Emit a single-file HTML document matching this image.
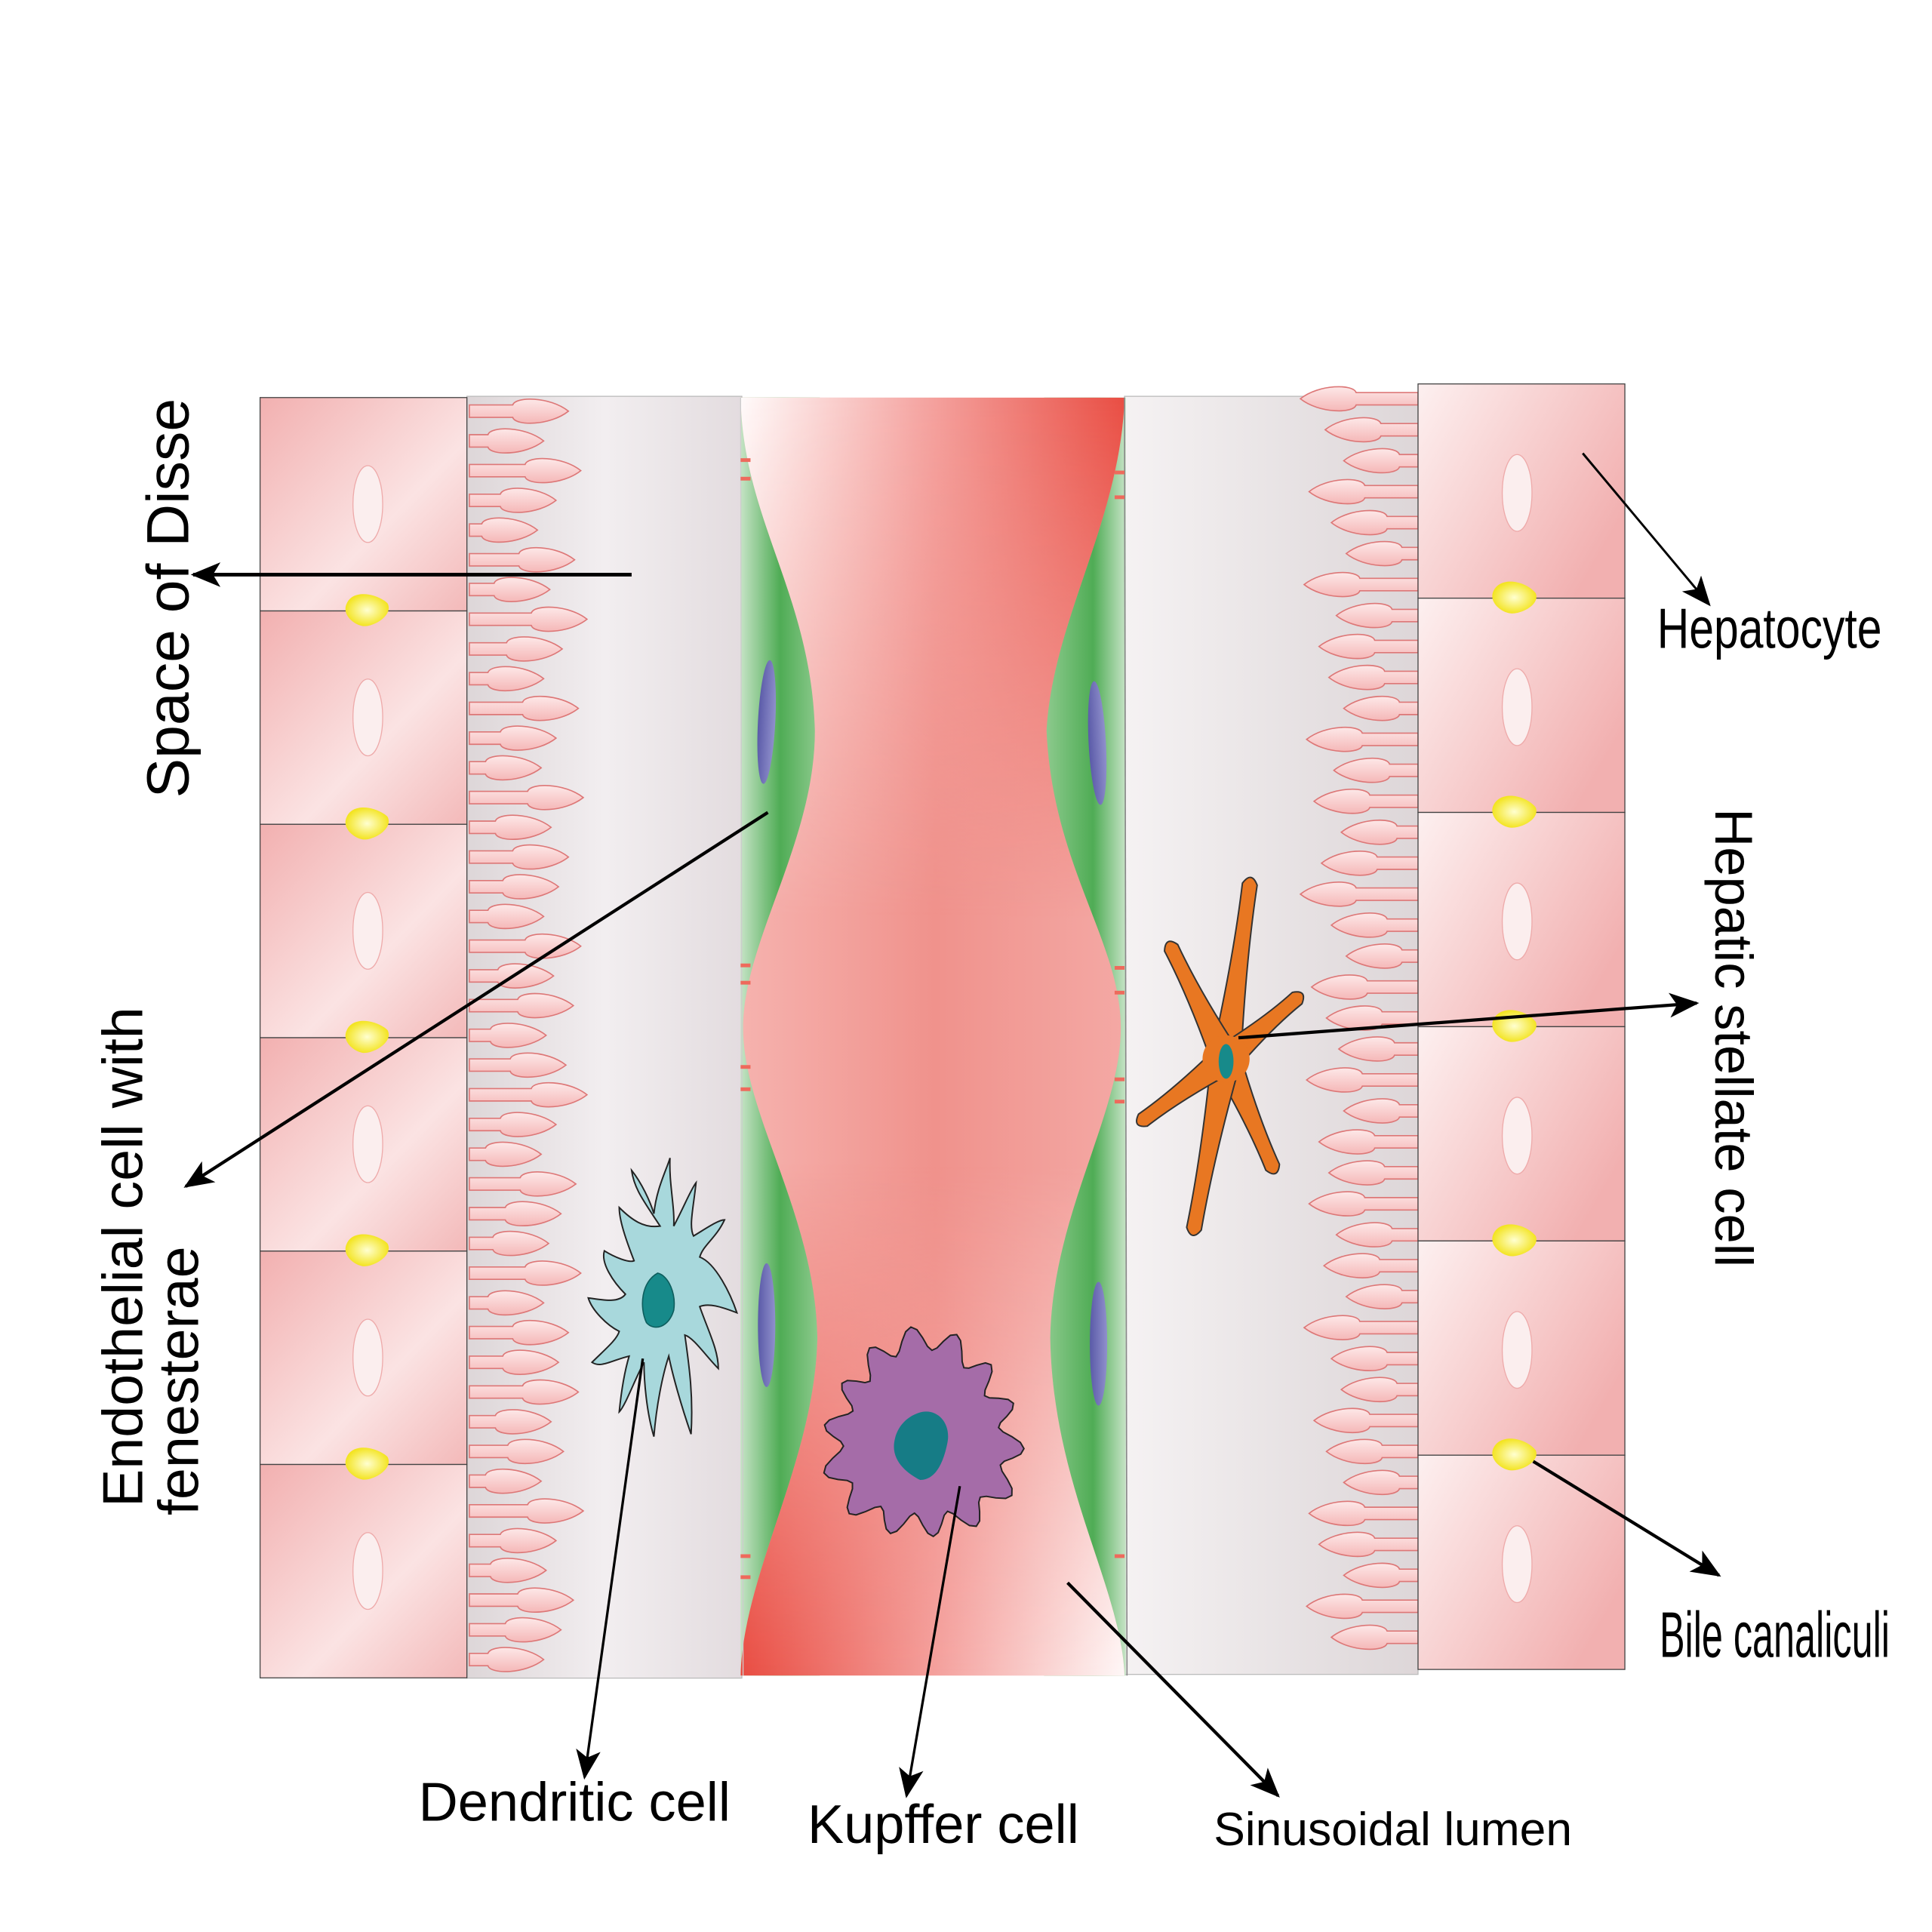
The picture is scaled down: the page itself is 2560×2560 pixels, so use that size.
<!DOCTYPE html>
<html><head><meta charset="utf-8"><style>
html,body{margin:0;padding:0;background:#fff}
svg{display:block}
text{font-family:"Liberation Sans",sans-serif;fill:#000}
</style></head><body>
<svg id="s" width="2560" height="2560" viewBox="0 0 1560 1560" xmlns="http://www.w3.org/2000/svg">
<defs>
<linearGradient id="hepL" x1="0" y1="0" x2="1" y2="1"><stop offset="0" stop-color="#f2b0b0"/><stop offset="0.6" stop-color="#fbe3e3"/><stop offset="1" stop-color="#f3b9b9"/></linearGradient>
<linearGradient id="hepR" x1="0" y1="0" x2="1" y2="0.6"><stop offset="0" stop-color="#fdf0f0"/><stop offset="1" stop-color="#f2b0b0"/></linearGradient>
<linearGradient id="disseL" x1="0" y1="0" x2="1" y2="0"><stop offset="0" stop-color="#ddd6d8"/><stop offset="0.5" stop-color="#f2eef0"/><stop offset="1" stop-color="#e3dcdf"/></linearGradient>
<linearGradient id="disseR" x1="0" y1="0" x2="1" y2="0"><stop offset="0" stop-color="#f5f2f3"/><stop offset="1" stop-color="#ddd6d8"/></linearGradient>
<linearGradient id="lumen" x1="0" y1="0" x2="1" y2="0"><stop offset="0" stop-color="#f6b4b0"/><stop offset="0.5" stop-color="#f0928c"/><stop offset="1" stop-color="#f4aaa6"/></linearGradient>
<linearGradient id="lumTop" x1="0" y1="0" x2="1" y2="0"><stop offset="0" stop-color="#fff"/><stop offset="0.45" stop-color="#f5a9a6"/><stop offset="1" stop-color="#e8473c"/></linearGradient>
<linearGradient id="lumBot" x1="0" y1="0" x2="1" y2="0"><stop offset="0" stop-color="#e8473c"/><stop offset="0.55" stop-color="#f5a9a6"/><stop offset="1" stop-color="#fff"/></linearGradient>
<linearGradient id="fadeDown" x1="0" y1="0" x2="0" y2="1"><stop offset="0" stop-color="#fff"/><stop offset="1" stop-color="#000"/></linearGradient>
<linearGradient id="fadeUp" x1="0" y1="0" x2="0" y2="1"><stop offset="0" stop-color="#000"/><stop offset="1" stop-color="#fff"/></linearGradient>
<mask id="mTop"><rect x="590" y="321" width="330" height="420" fill="url(#fadeDown)"/></mask>
<mask id="mBot"><rect x="590" y="940" width="330" height="415" fill="url(#fadeUp)"/></mask>
<clipPath id="lc"><path d="M598,321 L908,321 C905,420 850,500 845,590 C850,700 905,760 905,830 C905,900 850,980 848,1080 C850,1200 905,1280 908,1353 L598,1353 C600,1270 658,1180 660,1080 C658,980 600,900 600,830 C600,760 658,680 658,590 C655,480 600,420 598,321 Z"/></clipPath>
<linearGradient id="grL" x1="0" y1="0" x2="1" y2="0"><stop offset="0" stop-color="#c5e3c5"/><stop offset="0.5" stop-color="#4fac55"/><stop offset="1" stop-color="#8fcb8f"/></linearGradient>
<linearGradient id="grR" x1="0" y1="0" x2="1" y2="0"><stop offset="0" stop-color="#8fcb8f"/><stop offset="0.6" stop-color="#4fac55"/><stop offset="1" stop-color="#c5e3c5"/></linearGradient>
<linearGradient id="villi" x1="0" y1="0" x2="0" y2="1"><stop offset="0" stop-color="#fde8e8"/><stop offset="1" stop-color="#f5b8b8"/></linearGradient>
<radialGradient id="yel"><stop offset="0" stop-color="#ffffd0"/><stop offset="1" stop-color="#f3e422"/></radialGradient>
<linearGradient id="nuc" x1="0" y1="0" x2="1" y2="0"><stop offset="0" stop-color="#5a5aa8"/><stop offset="1" stop-color="#9090cc"/></linearGradient>
<marker id="ah" markerWidth="24" markerHeight="20" refX="22" refY="10" orient="auto" markerUnits="userSpaceOnUse" viewBox="0 0 24 20"><path d="M0,0 L24,10 L0,20 L6,10 Z" fill="#000"/></marker>
</defs>
<rect x="377" y="320" width="222" height="1035" fill="url(#disseL)" stroke="#bbb" stroke-width="0.8"/>
<rect x="908" y="320" width="237" height="1032" fill="url(#disseR)" stroke="#bbb" stroke-width="0.8"/>
<g id="villiL"></g><g id="villiR"></g>
<rect x="598" y="321" width="64" height="1032" fill="url(#grL)"/>
<rect x="843" y="321" width="66" height="1032" fill="url(#grR)"/>
<g clip-path="url(#lc)">
<rect x="590" y="315" width="330" height="1045" fill="url(#lumen)"/>
<rect x="590" y="321" width="330" height="420" fill="url(#lumTop)" mask="url(#mTop)"/>
<rect x="590" y="940" width="330" height="415" fill="url(#lumBot)" mask="url(#mBot)"/>
</g>
<line x1="908" y1="321" x2="910" y2="1353" stroke="#888" stroke-width="1"/>
<line x1="598" y1="321" x2="600" y2="1353" stroke="#ccc" stroke-width="0.8"/>
<ellipse cx="619" cy="583" rx="7" ry="50" fill="url(#nuc)" transform="rotate(3 619 583)"/>
<ellipse cx="886" cy="600" rx="7" ry="50" fill="url(#nuc)" transform="rotate(-3 886 600)"/>
<ellipse cx="619" cy="1070" rx="7" ry="50" fill="url(#nuc)"/>
<ellipse cx="887" cy="1085" rx="7" ry="50" fill="url(#nuc)"/>
<g fill="#ee6a5c"><rect x="598" y="370" width="8" height="3"/><rect x="598" y="385" width="8" height="3"/><rect x="598" y="778" width="8" height="3"/><rect x="598" y="792" width="8" height="3"/><rect x="598" y="860" width="8" height="3"/><rect x="598" y="878" width="8" height="3"/><rect x="598" y="1255" width="8" height="3"/><rect x="598" y="1272" width="8" height="3"/>
<rect x="900" y="380" width="8" height="3"/><rect x="900" y="400" width="8" height="3"/><rect x="900" y="780" width="8" height="3"/><rect x="900" y="800" width="8" height="3"/><rect x="900" y="870" width="8" height="3"/><rect x="900" y="888" width="8" height="3"/><rect x="900" y="1255" width="8" height="3"/></g>
<g id="hep"></g>
<path d="M533,990 C520,970 512,960 510,945 C518,955 525,970 528,980 C530,960 538,945 541,935 C540,955 545,975 544,990 C552,975 558,960 562,955 C560,975 556,990 560,998 C570,992 580,985 585,985 C578,1000 568,1005 565,1015 C578,1020 590,1045 595,1060 C582,1055 572,1052 565,1055 C572,1075 580,1090 580,1105 C570,1095 560,1080 553,1078 C556,1100 560,1125 558,1158 C550,1135 543,1110 540,1095 C535,1110 530,1135 528,1160 C522,1140 520,1115 520,1100 C512,1115 505,1135 500,1140 C502,1120 505,1105 508,1095 C495,1098 485,1105 478,1100 C488,1090 498,1082 500,1075 C490,1070 478,1058 475,1048 C488,1050 500,1052 505,1045 C495,1035 485,1020 488,1010 C496,1015 508,1020 512,1018 C505,1000 500,985 500,975 C510,985 520,992 533,990 Z" fill="#a8d8dc" stroke="#222" stroke-width="1.2"/>
<path d="M531,1028 C540,1030 546,1045 544,1058 C540,1072 528,1075 522,1068 C516,1055 518,1035 531,1028 Z" fill="#178a8a" stroke="#0e5e5e" stroke-width="1"/>
<g id="kup"></g>
<path d="M745,1140 C758,1138 768,1150 765,1165 C762,1180 756,1195 743,1195 C733,1190 720,1180 722,1165 C724,1150 735,1142 745,1140 Z" fill="#167c86"/>
<g id="stel"></g>
<ellipse cx="990" cy="857" rx="6" ry="14" fill="#178a8a"/>
<g stroke="#000" fill="none">
<line x1="510" y1="464" x2="156" y2="464" stroke-width="3" marker-end="url(#ah)"/>
<line x1="620" y1="656" x2="150" y2="958" stroke-width="2.6" marker-end="url(#ah)"/>
<line x1="1278" y1="366" x2="1380" y2="488" stroke-width="1.8" marker-end="url(#ah)"/>
<line x1="1000" y1="838" x2="1370" y2="810" stroke-width="2.6" marker-end="url(#ah)"/>
<line x1="1238" y1="1180" x2="1388" y2="1272" stroke-width="2.6" marker-end="url(#ah)"/>
<line x1="519" y1="1097" x2="472" y2="1435" stroke-width="2" marker-end="url(#ah)"/>
<line x1="775" y1="1200" x2="732" y2="1450" stroke-width="2" marker-end="url(#ah)"/>
<line x1="862" y1="1278" x2="1032" y2="1450" stroke-width="2.6" marker-end="url(#ah)"/>
</g>
<text transform="translate(152,483) rotate(-90)" text-anchor="middle" font-size="48">Space of Disse</text>
<text transform="translate(115,1015) rotate(-90)" text-anchor="middle" font-size="46">Endothelial cell with</text>
<text transform="translate(160,1115) rotate(-90)" text-anchor="middle" font-size="46">fenesterae</text>
<text transform="translate(1385,838) rotate(90)" text-anchor="middle" font-size="43">Hepatic stellate cell</text>
<text x="1338" y="523" font-size="46" transform="translate(1338 523) scale(0.78 1) translate(-1338 -523)">Hepatocyte</text>
<text x="1340" y="1338" font-size="52" transform="translate(1340 1338) scale(0.59 1) translate(-1340 -1338)">Bile canaliculi</text>
<text x="338" y="1470" font-size="44">Dendritic cell</text>
<text x="652" y="1488" font-size="44">Kupffer cell</text>
<text x="980" y="1490" font-size="38">Sinusoidal lumen</text>
</svg>
<script>
var NS="http://www.w3.org/2000/svg";
function el(p,t,a){var e=document.createElementNS(NS,t);for(var k in a)e.setAttribute(k,a[k]);p.appendChild(e);return e;}
var vl=document.getElementById('villiL'),vr=document.getElementById('villiR');
var lens=[80,60,90,70,55,85,65,95,75,60,88,70,58,92,66,80,72,60,90,68,84,62,78,95,70,58,86,74,64,90,60,80,72,88,66,76,58,92,70,62,84,74,60,88];
function villus(x0,L,y,dir){var x1=x0+dir*L,s=5,h=12,b=x1-dir*45;
return 'M'+x0+','+(y-s)+' L'+b+','+(y-s)+' C'+(b+dir*2)+','+(y-h)+' '+(x1-dir*15)+','+(y-h)+' '+x1+','+y+' C'+(x1-dir*15)+','+(y+h)+' '+(b+dir*2)+','+(y+h)+' '+b+','+(y+s)+' L'+x0+','+(y+s)+' Z';}
var i=0;for(var y=332;y<1345;y+=24,i++){var L=lens[i%lens.length];
el(vl,'path',{d:villus(379,L,y,1),fill:'url(#villi)',stroke:'#d77',"stroke-width":'1'});}
i=0;for(var y=322;y<1345;y+=25,i++){var L=lens[(i+7)%lens.length];
el(vr,'path',{d:villus(1145,L,y,-1),fill:'url(#villi)',stroke:'#d77',"stroke-width":'1'});}
var hp=document.getElementById('hep');
for(var r=0;r<6;r++){var yl=321+r*172.3,yr=310+r*173;
el(hp,'rect',{x:210,y:yl,width:167,height:172.3,fill:'url(#hepL)',stroke:'#444',"stroke-width":0.8});
el(hp,'ellipse',{cx:297,cy:yl+86,rx:12,ry:31,fill:'#fbeeee',stroke:'#eaa',"stroke-width":0.8});
el(hp,'rect',{x:1145,y:yr,width:167,height:173,fill:'url(#hepR)',stroke:'#444',"stroke-width":0.8});
el(hp,'ellipse',{cx:1225,cy:yr+88,rx:12,ry:31,fill:'#fbeeee',stroke:'#eaa',"stroke-width":0.8});}
for(var r=1;r<6;r++){var yl=321+r*172.3,yr=310+r*173;
el(hp,'path',{d:'M280,'+(yl-6)+' C285,'+(yl-18)+' 305,'+(yl-14)+' 313,'+(yl-6)+' C318,'+(yl+4)+' 300,'+(yl+14)+' 292,'+(yl+12)+' C284,'+(yl+10)+' 276,'+(yl+2)+' 280,'+(yl-6)+' Z',fill:'url(#yel)'});
el(hp,'path',{d:'M1206,'+(yr-6)+' C1212,'+(yr-18)+' 1232,'+(yr-14)+' 1240,'+(yr-4)+' C1244,'+(yr+6)+' 1226,'+(yr+14)+' 1218,'+(yr+12)+' C1210,'+(yr+10)+' 1202,'+(yr+2)+' 1206,'+(yr-6)+' Z',fill:'url(#yel)'});}
var kp=document.getElementById('kup'),d='',cx=745,cy=1160,n=14;
for(var k=0;k<=n*8;k++){var a=k/(n*8)*2*Math.PI;var rr=72+9*Math.sin(a*n)+4*Math.sin(a*3);var x=cx+rr*Math.cos(a),y=cy+rr*1.05*Math.sin(a);d+=(k?'L':'M')+x.toFixed(1)+','+y.toFixed(1);}
el(kp,'path',{d:d+'Z',fill:'#a56ca8',stroke:'#222',"stroke-width":1.2});
// stellate: separate arms + center cover
var sc=[990,855],tips=[[1010,708],[1052,802],[1030,948],[963,998],[918,908],[943,760]];
var sg=document.getElementById('stel');
function f(v){return v.toFixed(1);}
tips.forEach(function(t){var a=Math.atan2(t[1]-sc[1],t[0]-sc[0]),pa=a+Math.PI/2,c=Math.cos(pa),s=Math.sin(pa),ca=Math.cos(a),sa=Math.sin(a);
var w0=12,w1=6;
var l1=[sc[0]-c*w0,sc[1]-s*w0],r1=[sc[0]+c*w0,sc[1]+s*w0];
var mx=sc[0]+(t[0]-sc[0])*0.55,my=sc[1]+(t[1]-sc[1])*0.55;
var tl=[t[0]-c*w1-ca*6,t[1]-s*w1-sa*6],tr=[t[0]+c*w1-ca*6,t[1]+s*w1-sa*6];
var p='M'+f(l1[0])+','+f(l1[1])+' Q'+f(mx-c*5)+','+f(my-s*5)+' '+f(tl[0])+','+f(tl[1])+' Q'+f(t[0]+ca*5)+','+f(t[1]+sa*5)+' '+f(tr[0])+','+f(tr[1])+' Q'+f(mx+c*5)+','+f(my+s*5)+' '+f(r1[0])+','+f(r1[1])+' Z';
el(sg,'path',{d:p,fill:'#e87722',stroke:'#333',"stroke-width":1.2,"stroke-linejoin":"round"});});
el(sg,'circle',{cx:990,cy:855,r:19,fill:'#e87722'});
</script>
</body></html>
